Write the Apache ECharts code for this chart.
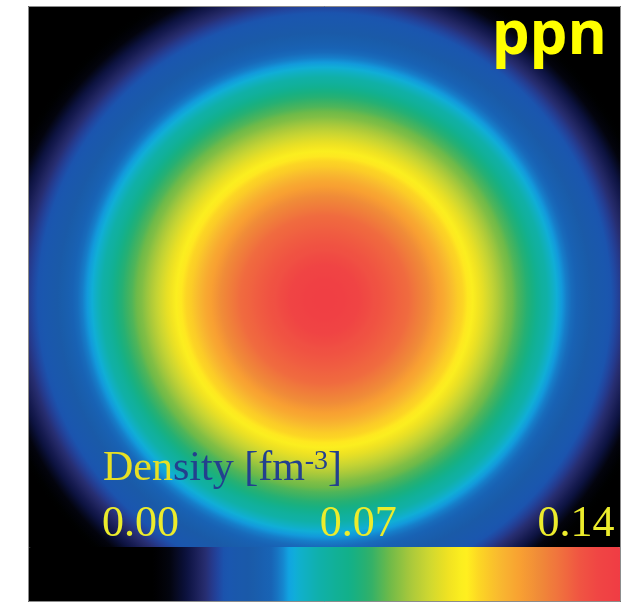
<!DOCTYPE html>
<html>
<head>
<meta charset="utf-8">
<script src="https://cdn.jsdelivr.net/npm/echarts@6/dist/echarts.min.js"></script>
<style>
html,body{margin:0;padding:0;background:#ffffff;}
#chart{width:625px;height:603px;}
</style>
</head>
<body>
<div id="chart"></div>
<script>
// ---- data ----
// radial distance from the nucleus centre (fm)
const radiusFm = [
  0.00,0.05,0.10,0.15,0.20,0.25,0.30,0.35,0.40,0.45,
  0.50,0.55,0.60,0.65,0.70,0.75,0.80,0.85,0.90,0.95,
  1.00,1.05,1.10,1.15,1.20,1.25,1.30,1.35,1.40,1.45,
  1.50,1.55,1.60,1.65,1.70,1.75,1.80,1.85,1.90,1.95,
  2.00,2.05,2.10,2.15,2.20,2.25,2.30,2.35,2.40,2.45,
  2.50,2.55,2.60,2.65,2.70,2.75,2.80,2.85,2.90,2.95,
  3.00,3.05,3.10,3.15,3.20,3.25,3.30,3.35,3.40,3.45,
  3.50,3.55,3.60
];
// density (fm^-3) at each radius
const density = [
  0.152,0.152,0.152,0.151,0.151,0.150,0.149,0.148,0.146,0.145,
  0.143,0.142,0.141,0.140,0.139,0.138,0.137,0.136,0.134,0.132,
  0.130,0.128,0.125,0.122,0.120,0.117,0.114,0.111,0.109,0.106,
  0.103,0.100,0.097,0.094,0.091,0.088,0.085,0.082,0.080,0.077,
  0.075,0.072,0.069,0.065,0.061,0.058,0.054,0.050,0.047,0.045,
  0.043,0.041,0.039,0.037,0.035,0.033,0.031,0.029,0.027,0.025,
  0.023,0.021,0.019,0.017,0.015,0.012,0.009,0.007,0.005,0.003,
  0.002,0.001,0.000
];
const colorbarTicks = [0.00, 0.07, 0.14];
const panelLabel = 'ppn';

// ---- styling ----
const VMIN = -0.0362, VMAX = 0.1545;
const CB_LEFT = 28, CB_RIGHT = 621;
// colour stops of the colour bar (pixel position along bar, colour)
const cbStops = [
  [28,'#000000'],[155,'#000000'],[170,'#03040f'],[187,'#0c1240'],[205,'#282c6e'],
  [215,'#243f98'],[225,'#1a56b0'],[250,'#1a5aa8'],[272,'#1864b6'],[282,'#1682cc'],
  [290,'#10aae6'],[300,'#10b0cc'],[320,'#10b0a8'],[350,'#12b088'],[370,'#2eb06a'],
  [390,'#70ba48'],[410,'#a8c83c'],[430,'#d0d830'],[448,'#f0e222'],[465,'#fff21e'],
  [480,'#fcd424'],[500,'#f8b830'],[520,'#f8a032'],[540,'#f08a38'],[560,'#f0703e'],
  [580,'#f05442'],[600,'#f04444'],[621,'#f03c44']
];
function hex2rgb(h){return [parseInt(h.slice(1,3),16),parseInt(h.slice(3,5),16),parseInt(h.slice(5,7),16)];}
function colorAtPx(px){
  for (let i=0;i<cbStops.length-1;i++){
    const a=cbStops[i], b=cbStops[i+1];
    if (px>=a[0] && px<=b[0]){
      const t=(px-a[0])/(b[0]-a[0]);
      const ca=hex2rgb(a[1]), cb=hex2rgb(b[1]);
      const c=ca.map((v,k)=>Math.round(v+(cb[k]-v)*t));
      return 'rgb('+c.join(',')+')';
    }
  }
  return cbStops[cbStops.length-1][1];
}
const NCOL = 240;
const mapColors = [];
for (let i=0;i<NCOL;i++){ mapColors.push(colorAtPx(CB_LEFT + (CB_RIGHT-CB_LEFT)*i/(NCOL-1))); }

// outermost first so inner discs are drawn on top
const ringData = radiusFm.map((r,i)=>[r, density[i]]).reverse();

const chart = echarts.init(document.getElementById('chart'), null, {renderer:'canvas'});
const option = {
  animation: false,
  backgroundColor: '#ffffff',
  grid: [
    {left:28, top:6, width:593, height:596, show:true, backgroundColor:'#000000', borderWidth:0},
    {left:CB_LEFT, top:547, width:CB_RIGHT-CB_LEFT, height:55, show:false}
  ],
  xAxis: [
    {gridIndex:0, type:'value', min:-3, max:3, show:false},
    {gridIndex:1, type:'value', min:VMIN, max:VMAX, position:'top', z:50,
     axisLine:{show:false}, axisTick:{show:false}, splitLine:{show:false},
     axisLabel:{customValues: colorbarTicks, formatter: v => v.toFixed(2), margin:1,
       fontFamily:'Liberation Serif', fontSize:44, color:'#ecec2c', lineHeight:44}}
  ],
  yAxis: [
    {gridIndex:0, type:'value', min:-3.06, max:2.97, show:false},
    {gridIndex:1, type:'value', show:false}
  ],
  visualMap: {
    type:'continuous', min:VMIN, max:VMAX, orient:'horizontal',
    left:CB_LEFT, top:547, itemWidth:55, itemHeight:CB_RIGHT-CB_LEFT, padding:0,
    calculable:false, hoverLink:false, seriesIndex:0, dimension:1,
    inRange:{color: mapColors}
  },
  series: [{
    type:'custom', coordinateSystem:'cartesian2d', xAxisIndex:0, yAxisIndex:0,
    clip:true, silent:true,
    data: ringData,
    renderItem: function(params, api){
      const idx = params.dataIndexInside;
      const c = api.coord([0,0]);
      const e = api.coord([api.value(0), 0]);
      const r = e[0]-c[0];
      if (r <= 0.5) return null;
      const col = api.visual('color');
      let fill = col;
      if (idx + 1 < params.dataInsideLength) {
        const eIn = api.coord([api.value(0, idx+1), 0]);
        const rIn = Math.max(eIn[0]-c[0], 0);
        const colIn = api.visual('color', idx+1);
        fill = {type:'radial', x:0.5, y:0.5, r:0.5, global:false,
          colorStops:[{offset:0, color:colIn},{offset:rIn/r, color:colIn},{offset:1, color:col}]};
      }
      return {type:'circle', shape:{cx:c[0], cy:c[1], r:r}, style:{fill: fill}};
    }
  }],
  graphic: [
    {type:'rect', z:100, silent:true, shape:{x:28.5, y:6.5, width:592, height:595},
     style:{fill:'none', stroke:'#8c8c8c', lineWidth:1}},
    {type:'text', z:101, silent:true, x:607, y:37,
     style:{text: panelLabel, fontFamily:'Open Sans', fontWeight:'bold', fontSize:60,
            fill:'#ffff00', align:'right', verticalAlign:'middle'}},
    {type:'text', z:101, silent:true, x:103, y:448,
     style:{text:'{y|Den}{b|sity [fm}{s|-3}{b|]}', align:'left', verticalAlign:'top',
       rich:{
         y:{fontFamily:'Liberation Serif', fontSize:42, fill:'#e6e024', lineHeight:42},
         b:{fontFamily:'Liberation Serif', fontSize:42, fill:'#23408e', lineHeight:42},
         s:{fontFamily:'Liberation Serif', fontSize:28, fill:'#23408e', lineHeight:20, verticalAlign:'top'}
       }}}
  ]
};
chart.setOption(option);
</script>
</body>
</html>
